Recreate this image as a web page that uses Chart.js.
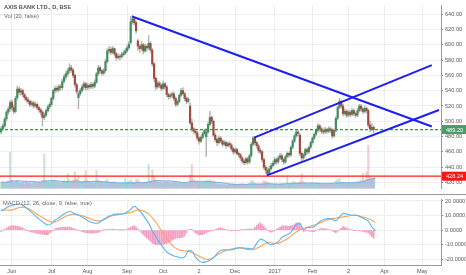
<!DOCTYPE html>
<html>
<head>
<meta charset="utf-8">
<script src="https://cdn.jsdelivr.net/npm/chart.js@4.4.1/dist/chart.umd.min.js"></script>
<style>
  html, body { margin: 0; padding: 0; background: #fff; }
  #wrap { position: relative; width: 466px; height: 275px; }
  #priceCanvas { position: absolute; left: 0; top: 0; }
  #macdCanvas { position: absolute; left: 0; top: 194px; }
</style>
</head>
<body>
<div id="wrap">
  <canvas id="priceCanvas" width="466" height="194"></canvas>
  <canvas id="macdCanvas" width="466" height="81"></canvas>
</div>
<script>
// daily bars, AXIS BANK (BSE), late May 2016 .. Mar 2017
const open = [486,490,494,503,512,516,525,518,513,531,
  542,538,540,535,531,528,526,522,524,520,
  522,518,515,512,505,508,514,519,522,530,
  540,543,541,545,544,552,558,562,566,570,
  567,560,548,531,536,540,545,549,544,547,
  545,548,546,551,562,570,566,563,566,578,
  592,594,590,595,588,583,585,584,587,589,
  592,596,603,630,634,629,605,598,595,600,
  592,598,596,602,593,575,556,545,550,547,
  543,549,545,535,532,534,536,530,522,526,
  534,540,536,530,526,520,498,490,487,485,
  478,474,479,484,480,486,496,505,500,482,
  476,472,478,474,470,472,468,471,469,464,
  460,463,458,456,452,448,446,451,447,455,
  470,478,472,468,462,460,450,440,436,432,
  438,442,445,450,447,452,455,450,447,454,
  458,456,466,474,481,486,482,458,452,456,
  463,460,466,472,478,483,488,494,490,487,
  486,489,487,490,488,481,488,504,518,526,
  520,510,513,508,512,509,514,510,508,514,
  520,516,513,517,514,495,490,492];
const high = [493,497,505,514,519,527,528,521,533,546,
  545,543,542,537,533,531,528,527,526,525,
  524,520,517,514,511,516,521,525,532,542,
  546,546,548,548,555,561,565,569,575,573,
  569,562,550,539,543,548,552,551,550,549,
  551,550,554,564,573,572,568,569,581,595,
  598,597,598,596,590,588,587,590,592,595,
  599,604,637,638,636,631,607,600,604,602,
  601,600,612,604,595,577,558,553,552,549,
  553,551,547,537,537,538,538,532,528,536,
  543,544,538,532,531,524,503,492,490,487,
  480,481,486,490,490,499,513,507,502,484,
  478,481,480,476,475,474,473,473,471,466,
  465,465,460,458,454,450,453,453,457,472,
  480,480,474,470,465,462,452,442,439,441,
  445,448,453,452,455,458,457,452,456,460,
  460,468,476,483,489,488,484,460,458,465,
  465,468,474,480,485,490,497,496,492,490,
  492,491,493,492,490,490,506,520,530,528,
  522,516,515,515,514,517,516,512,517,522,
  522,518,520,519,516,500,497,494];
const low = [483,488,492,500,509,513,515,510,511,528,
  535,534,532,528,525,523,519,520,517,518,
  515,512,508,494,502,506,512,516,520,528,
  537,538,539,540,542,550,555,559,563,564,
  557,545,536,516,533,538,542,541,541,542,
  543,543,544,549,560,563,560,561,564,576,
  589,587,588,585,580,581,580,582,585,587,
  590,594,601,627,626,615,593,590,593,588,
  590,592,594,590,572,552,541,543,544,540,
  541,542,532,529,530,531,527,519,520,524,
  532,534,527,523,524,496,487,484,482,475,
  470,472,477,482,454,484,494,497,480,473,
  468,470,472,467,468,465,466,466,461,457,
  458,456,453,449,445,443,444,444,445,453,
  468,469,465,459,457,447,437,432,429,430,
  436,440,443,444,445,450,447,444,445,452,
  453,454,464,472,479,481,455,448,450,454,
  457,458,464,470,476,481,486,487,484,483,
  484,484,485,485,478,479,486,502,516,517,
  507,508,505,506,506,507,507,505,506,512,
  513,510,511,511,492,486,488,485];
const close = [490,494,503,512,516,524,518,513,530,542,
  538,540,535,531,528,526,522,524,520,522,
  518,515,512,505,508,514,519,522,530,540,
  543,541,545,544,552,558,562,566,570,567,
  560,548,539,536,540,545,549,544,547,545,
  548,546,551,562,570,566,563,566,578,592,
  594,590,595,588,583,585,584,587,589,592,
  596,601,630,634,629,618,598,595,600,592,
  598,596,602,593,575,556,545,550,547,543,
  549,545,535,532,534,536,530,522,526,534,
  540,536,530,526,529,498,490,487,485,478,
  474,479,484,488,486,496,505,500,482,476,
  472,478,474,470,472,468,471,469,464,460,
  463,458,456,452,448,446,451,447,455,470,
  478,472,468,462,460,450,440,436,432,438,
  442,445,450,447,452,455,450,447,454,458,
  456,466,474,481,486,484,458,452,456,463,
  460,466,472,478,483,488,494,490,487,486,
  489,487,490,488,481,488,504,518,526,520,
  510,513,508,512,509,514,510,508,514,520,
  516,513,517,514,495,490,492,489.2];
// volume (millions)
const volume = [1.8,2.0,1.6,1.9,2.2,10.3,2.4,1.7,2.1,2.3,
  1.6,1.5,1.8,1.4,1.9,1.6,1.5,1.3,1.7,1.6,
  1.5,1.8,1.6,2.6,9.8,2.2,1.8,1.7,2.0,2.4,
  1.9,1.7,1.8,1.6,2.1,2.3,2.0,4.3,2.6,1.9,
  2.2,4.8,2.8,3.4,2.0,1.8,2.2,5.1,2.4,1.8,
  1.6,1.7,2.0,5.3,2.5,1.8,1.7,1.6,2.2,2.8,
  2.0,1.8,1.9,2.0,1.7,1.6,1.5,1.7,1.8,2.9,
  1.9,2.1,2.6,2.0,1.8,2.4,2.6,1.9,1.7,1.8,
  1.6,1.9,6.8,2.2,5.3,3.4,2.4,1.9,1.8,1.7,
  1.6,1.8,2.0,1.7,1.5,1.6,1.8,1.9,1.6,1.7,
  1.8,1.6,1.7,1.5,1.6,3.9,6.8,2.6,2.1,2.0,
  1.8,1.7,1.9,1.8,2.5,2.2,2.6,1.9,2.3,1.8,
  1.4,1.3,1.2,1.1,1.2,1.0,1.1,1.2,1.3,1.4,
  1.2,1.1,1.3,1.4,1.5,1.3,1.2,1.1,1.6,2.4,
  2.2,1.5,1.4,1.3,1.2,1.6,2.3,2.0,1.9,1.4,
  1.3,1.2,1.4,1.3,1.2,1.3,1.5,1.4,1.3,3.5,
  1.4,1.6,2.0,1.9,1.7,1.6,2.1,4.3,2.0,1.5,
  1.4,1.3,1.5,1.6,1.4,1.5,1.7,1.4,1.3,1.2,
  1.3,1.2,1.4,1.3,1.5,1.6,2.3,2.6,2.9,1.9,
  1.8,1.7,1.6,1.7,1.8,1.6,1.7,1.9,2.0,2.2,
  2.4,4.3,2.6,4.8,12.3,3.4,2.8,3.2];
// Vol MA(20), read every 2nd bar
const volMa = [1.8,1.8,1.9,2.2,2.2,2.2,2.1,2.1,2.0,2.0,
  1.9,1.9,2.2,2.2,2.3,2.3,2.2,2.0,2.0,2.0,
  2.1,2.2,1.9,2.0,2.0,2.0,2.1,2.1,2.0,1.9,
  1.8,1.7,1.7,1.6,1.6,1.6,1.6,1.6,1.7,1.7,
  1.7,1.9,2.1,2.3,2.3,2.2,2.2,2.2,2.1,2.0,
  1.8,1.7,1.9,2.1,2.1,2.1,2.1,2.0,2.0,1.9,
  1.8,1.7,1.6,1.4,1.3,1.2,1.2,1.2,1.2,1.3,
  1.3,1.3,1.3,1.3,1.4,1.4,1.3,1.3,1.3,1.4,
  1.4,1.4,1.5,1.5,1.6,1.6,1.6,1.6,1.5,1.5,
  1.5,1.5,1.5,1.6,1.6,1.7,1.7,1.7,1.7,1.7,
  1.9,2.1,2.6,2.8,2.9];
// MACD(12,26,9), lines read every 2nd bar, histogram every bar
const macdLine = [13.0,14.5,16.0,17.0,17.6,17.9,17.3,15.2,13.2,11.0,
  8.7,6.8,4.8,3.6,4.5,6.8,8.5,10.2,11.8,12.8,
  12.0,10.8,9.7,8.2,6.7,5.4,4.8,4.9,6.6,8.2,
  9.5,10.6,11.0,11.0,11.2,12.4,14.2,16.3,14.5,11.8,
  8.3,4.8,-0.5,-4.5,-8.3,-11.8,-14.8,-16.5,-17.6,-18.2,
  -19.0,-18.2,-14.2,-14.5,-18.4,-21.0,-22.0,-21.6,-20.5,-18.8,
  -16.0,-13.8,-13.5,-13.6,-13.4,-12.6,-12.1,-12.1,-12.4,-12.5,
  -12.6,-9.0,-6.2,-6.9,-8.8,-10.0,-9.2,-7.8,-5.0,-3.6,
  -2.4,0.2,3.8,4.8,0.4,1.7,2.0,2.4,4.8,6.6,
  7.6,7.9,7.4,6.4,9.0,11.5,11.0,10.4,10.2,10.0,
  8.9,7.6,6.2,2.2,-0.4];
const signalLine = [13.8,13.7,13.7,13.9,14.6,15.5,15.8,15.3,14.2,12.6,
  10.9,9.4,7.9,6.6,5.7,5.8,6.8,8.2,9.6,10.5,
  10.8,10.6,10.2,9.6,8.6,7.5,6.7,6.4,6.8,7.8,
  9.0,9.9,10.5,10.9,11.2,11.6,12.2,13.2,13.7,13.6,
  12.6,11.2,8.4,5.4,1.6,-2.0,-5.8,-8.9,-11.4,-13.0,
  -13.8,-14.2,-14.6,-15.2,-16.4,-17.8,-19.0,-19.9,-19.8,-18.6,
  -17.0,-15.6,-14.2,-13.4,-12.9,-12.4,-12.1,-12.4,-13.0,-13.4,
  -13.3,-12.4,-11.2,-9.6,-8.4,-8.6,-9.1,-9.0,-7.9,-6.6,
  -5.0,-3.0,-1.2,0.3,1.3,2.0,2.8,3.6,4.4,5.4,
  6.6,7.4,7.9,8.2,8.6,9.1,9.5,10.0,10.3,10.0,
  9.4,8.7,7.9,6.7,5.2];
const macdHist = [-0.8,0.0,0.8,1.5,2.3,2.7,3.1,3.0,3.0,2.7,
  2.4,2.0,1.5,0.7,-0.1,-0.5,-1.0,-1.3,-1.6,-1.9,
  -2.2,-2.4,-2.6,-2.9,-3.1,-3.0,-3.0,-2.1,-1.2,-0.1,
  1.0,1.3,1.7,1.8,2.0,2.1,2.2,2.2,2.3,1.8,
  1.2,0.7,0.2,-0.2,-0.5,-1.0,-1.4,-1.7,-1.9,-2.0,
  -2.1,-2.0,-1.9,-1.7,-1.5,-0.9,-0.2,0.1,0.4,0.5,
  0.5,0.6,0.7,0.6,0.5,0.3,0.1,0.1,0.0,0.4,
  0.8,1.4,2.0,2.6,3.1,2.0,0.8,-0.5,-1.8,-3.1,
  -4.3,-5.4,-6.4,-7.7,-8.9,-9.4,-9.9,-9.9,-9.9,-9.9,
  -9.8,-9.4,-9.0,-8.3,-7.6,-6.9,-6.2,-5.7,-5.2,-5.2,
  -5.2,-4.6,-4.0,-1.8,0.4,0.6,0.7,-0.7,-2.0,-2.6,
  -3.2,-3.1,-3.0,-2.4,-1.7,-1.2,-0.7,-0.5,-0.2,0.4,
  1.0,1.4,1.8,1.3,0.7,0.3,-0.2,-0.4,-0.5,-0.4,
  -0.2,-0.1,0.0,0.2,0.3,0.5,0.6,0.8,0.9,0.8,
  0.7,2.0,3.4,4.2,5.0,3.9,2.7,1.2,-0.4,-0.9,
  -1.4,-0.8,-0.1,0.6,1.2,2.0,2.9,3.0,3.0,2.8,
  2.6,2.9,3.2,4.1,5.0,4.8,4.5,1.8,-0.9,-0.6,
  -0.3,-0.6,-0.8,-1.0,-1.2,-0.4,0.4,0.8,1.2,1.1,
  1.0,0.8,0.5,0.0,-0.5,-1.2,-1.8,-0.7,0.4,1.4,
  2.4,2.0,1.5,1.0,0.4,0.2,-0.1,-0.1,0.0,-0.3,
  -0.5,-0.8,-1.1,-1.4,-1.7,-3.1,-4.5,-5.6];

// x axis: bar index of each date label
const tickIdx = [6, 28, 48, 70, 90, 110, 130, 152, 173, 193, 213, 234];
const tickText = ['Jun', 'Jul', 'Aug', 'Sep', 'Oct', '2', 'Dec', '2017', 'Feb', '2', 'Apr', 'May'];
const priceTicks = [420, 440, 460, 480, 500, 520, 540, 560, 580, 600, 620, 640];
const macdTicks = [-20, -10, 0, 10, 20];

// drawings: [barFrom, priceFrom, barTo, priceTo]
const trendLines = [
  [72.8, 637, 239.3, 493.1],
  [140.6, 478.6, 239.3, 573.3],
  [147.6, 429.3, 243.3, 514.8]
];
const lastPrice = 489.20;
const supportLevel = 428.24;

const X_MIN = -0.6, X_MAX = 244.4;
const FONT = '"Liberation Sans", Arial, sans-serif';
const GRID = '#eeeeee';
const AXIS = '#9a9a9a';

const isUp = close.map((c, i) => c >= open[i]);
const fitWidth = s => { s.width = 25; };

const xScale = (showLabels) => ({
  type: 'linear', min: X_MIN, max: X_MAX, offset: false,
  grid: { color: GRID, offset: false, drawTicks: false },
  border: { display: showLabels, color: AXIS },
  ticks: {
    display: showLabels, autoSkip: false, maxRotation: 0, padding: 2,
    color: '#555', font: { family: FONT, size: 5.6 },
    callback: (v, i) => tickText[i]
  },
  afterBuildTicks: s => { s.ticks = tickIdx.map(v => ({ value: v })); },
  afterFit: s => { s.height = showLabels ? 9.3 : 0; }
});

const priceDecor = {
  id: 'priceDecor',
  afterDraw(chart) {
    const ctx = chart.ctx, y = chart.scales.y, a = chart.chartArea;
    ctx.save();
    ctx.textBaseline = 'middle';
    ctx.fillStyle = '#555';
    ctx.font = 'bold 5.7px ' + FONT;
    ctx.fillText('AXIS BANK LTD., D, BSE', 4, 7.5);
    ctx.fillStyle = '#666';
    ctx.font = '5.7px ' + FONT;
    ctx.fillText('Vol (20, false)', 4, 16);
    [[lastPrice, '#4f9a68'], [supportLevel, '#ff1414']].forEach(([v, bg]) => {
      const py = y.getPixelForValue(v);
      ctx.fillStyle = bg;
      ctx.fillRect(a.right + 1, py - 4.5, 24, 9);
      ctx.fillStyle = '#fff';
      ctx.font = '5.6px ' + FONT;
      ctx.fillText(v.toFixed(2), a.right + 5, py + 0.5);
    });
    ctx.restore();
  }
};

const macdDecor = {
  id: 'macdDecor',
  afterDraw(chart) {
    const ctx = chart.ctx;
    ctx.save();
    ctx.strokeStyle = AXIS;
    ctx.lineWidth = 1;
    ctx.beginPath();
    ctx.moveTo(0, 0.5);
    ctx.lineTo(chart.width, 0.5);
    ctx.stroke();
    ctx.fillStyle = '#666';
    ctx.font = '5.7px ' + FONT;
    ctx.textBaseline = 'middle';
    ctx.fillText('MACD (12, 26, close, 9, false, true)', 3, 9.5);
    ctx.restore();
  }
};

const lineSet = (pts, color, width, dash) => ({
  type: 'line', data: pts, borderColor: color, borderWidth: width, borderDash: dash || [],
  pointRadius: 0, fill: false, order: 0, yAxisID: 'y'
});

const priceDatasets = [
  ...trendLines.map(t => lineSet([{ x: t[0], y: t[1] }, { x: t[2], y: t[3] }], '#1c1fee', 2)),
  lineSet([{ x: X_MIN, y: lastPrice }, { x: X_MAX, y: lastPrice }], '#1fa348', 1.2, [3, 2]),
  lineSet([{ x: X_MIN, y: supportLevel }, { x: X_MAX, y: supportLevel }], '#ff1a1a', 1.3),
  {
    type: 'bar', data: close.map((c, i) => ({ x: i, y: [open[i], c] })),
    backgroundColor: isUp.map(u => u ? '#3f8c5c' : '#a4483c'),
    barThickness: 1.5, minBarLength: 1, grouped: false, order: 1, yAxisID: 'y'
  },
  {
    type: 'bar', data: close.map((c, i) => ({ x: i, y: [low[i], high[i]] })),
    backgroundColor: '#b4b4b4', barThickness: 0.8, grouped: false, order: 2, yAxisID: 'y'
  },
  {
    type: 'line', data: volMa.map((v, k) => ({ x: 2 * k, y: v })),
    borderColor: 'rgba(110,170,225,0.9)', borderWidth: 1, backgroundColor: 'rgba(120,180,235,0.45)',
    fill: 'origin', pointRadius: 0, tension: 0.3, order: 9, yAxisID: 'yv'
  },
  {
    type: 'bar', data: volume.map((v, i) => ({ x: i, y: v })),
    backgroundColor: isUp.map(u => u ? 'rgba(120,190,140,0.4)' : 'rgba(225,110,110,0.35)'),
    barThickness: 1.4, grouped: false, order: 10, yAxisID: 'yv'
  }
];

new Chart(document.getElementById('priceCanvas'), {
  type: 'bar',
  data: { datasets: priceDatasets },
  options: {
    responsive: false, animation: false, events: [],
    layout: { padding: 0 },
    plugins: { legend: { display: false }, tooltip: { enabled: false } },
    scales: {
      x: xScale(false),
      y: {
        type: 'linear', position: 'right', min: 411.96, max: 651.48, beginAtZero: false,
        grid: { color: GRID, tickLength: 2, tickColor: '#888' },
        border: { color: AXIS },
        ticks: { color: '#5d5d5d', padding: 2, font: { family: FONT, size: 5.6 }, callback: v => v.toFixed(2) },
        afterBuildTicks: s => { s.ticks = priceTicks.map(v => ({ value: v })); },
        afterFit: fitWidth
      },
      yv: { type: 'linear', display: false, min: 0, max: 52 }
    }
  },
  plugins: [priceDecor]
});

new Chart(document.getElementById('macdCanvas'), {
  type: 'bar',
  data: {
    datasets: [
      {
        type: 'line', data: macdLine.map((v, k) => ({ x: 2 * k, y: v })),
        borderColor: '#58b6f4', borderWidth: 1.1, pointRadius: 0, tension: 0.4, order: 0
      },
      {
        type: 'line', data: signalLine.map((v, k) => ({ x: 2 * k, y: v })),
        borderColor: '#ffa459', borderWidth: 1.1, pointRadius: 0, tension: 0.4, order: 1
      },
      {
        type: 'bar', data: macdHist.map((v, i) => ({ x: i, y: v })),
        backgroundColor: '#f59ac0', barThickness: 1, grouped: false, order: 2
      }
    ]
  },
  options: {
    responsive: false, animation: false, events: [],
    layout: { padding: 0 },
    plugins: { legend: { display: false }, tooltip: { enabled: false } },
    scales: {
      x: xScale(true),
      y: {
        type: 'linear', position: 'right', min: -24.3, max: 21.1, beginAtZero: false,
        grid: { color: GRID, tickLength: 2, tickColor: '#888' },
        border: { color: AXIS },
        ticks: { color: '#5d5d5d', padding: 2, font: { family: FONT, size: 5.6 }, callback: v => v.toFixed(4) },
        afterBuildTicks: s => { s.ticks = macdTicks.map(v => ({ value: v })); },
        afterFit: fitWidth
      }
    }
  },
  plugins: [macdDecor]
});
</script>
</body>
</html>
